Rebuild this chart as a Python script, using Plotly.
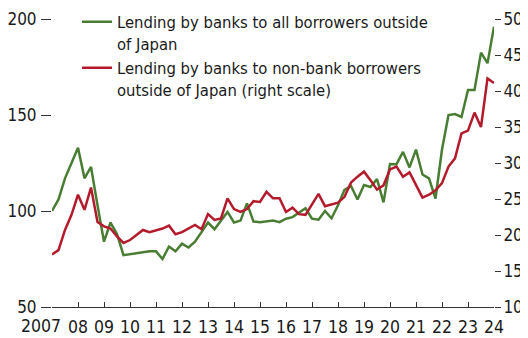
import plotly.graph_objects as go

# quarterly, 2007Q1 .. 2024Q1
quarters = [2007 + i / 4 for i in range(69)]

all_borrowers = [
    100, 106, 117, 125, 133, 117, 123, 103,
    84, 94, 88, 77, 77.5, 78, 78.5, 79,
    79, 75, 81.5, 79, 83, 81, 84, 89,
    94, 90.5, 95, 99.5, 94, 95, 104, 94.5,
    94.2, 94.5, 95, 94.2, 96, 96.8, 99, 101.4,
    96, 95.5, 100, 96.2, 103, 111, 113, 106,
    113.5, 112.5, 116.6, 104.5, 124.5, 124.4, 130.8, 122.7,
    132, 119, 117, 106.5, 132, 150, 150.5, 149,
    163, 163, 182.5, 177, 196,
]

non_bank = [
    17.3, 17.9, 20.7, 22.8, 25.6, 23.5, 26.6, 21.8,
    21.2, 20.9, 19.8, 18.9, 19.3, 20, 20.7, 20.4,
    20.6, 20.9, 21.3, 20.1, 20.4, 20.9, 21.4, 20.8,
    22.9, 22.1, 22.3, 25.1, 23.6, 23.2, 23.6, 24.7,
    24.6, 26, 25.1, 25.1, 23.2, 23.8, 22.9, 22.8,
    24.2, 25.7, 24, 24.2, 24.5, 25.3, 27.3, 28.1,
    28.8, 27.6, 26.3, 26.9, 29.1, 29.5, 28.1, 28.7,
    27, 25.2, 25.6, 26.2, 27.2, 29.5, 30.65, 34.1,
    34.5, 37, 35, 41.75, 41.1,
]

year_ticks = list(range(2007, 2025))
year_labels = [""] + [f"{y % 100:02d}" for y in range(2008, 2025)]

left_ticks = [50, 100, 150, 200]
right_ticks = [10, 15, 20, 25, 30, 35, 40, 45, 50]

FONT = "DejaVu Sans Condensed, Liberation Sans Narrow, sans-serif"
GREEN = "#4a7d34"
RED = "#b31b2c"
INK = "#1a1a1a"

fig = go.Figure()
fig.add_trace(
    go.Scatter(
        x=quarters,
        y=all_borrowers,
        mode="lines",
        name="Lending by banks to all borrowers outside<br>of Japan",
        legendgroup="all",
        line={"color": GREEN, "width": 2.5},
        yaxis="y",
    )
)
fig.add_trace(
    go.Scatter(
        x=quarters,
        y=non_bank,
        mode="lines",
        name="Lending by banks to non-bank borrowers<br>outside of Japan (right scale)",
        legendgroup="nonbank",
        line={"color": RED, "width": 2.5},
        yaxis="y2",
    )
)

# "2007" sits a little left of its tick in the original, so it goes in as text
fig.add_annotation(
    x=0, y=0, xref="paper", yref="paper",
    text="2007", showarrow=False,
    xanchor="right", yanchor="middle", xshift=11, yshift=-19,
    font={"family": FONT, "size": 17.5, "color": INK},
)

# the page body adds an 8px offset, so the figure origin is moved by 8px
fig.update_layout(
    width=520,
    height=330,
    paper_bgcolor="white",
    plot_bgcolor="white",
    margin={"l": 44, "r": 34, "t": 11, "b": 31, "autoexpand": False},
    font={"family": FONT, "size": 17, "color": INK},
    showlegend=True,
    legend={
        "x": 25 / 442,
        "y": 1.05,
        "xanchor": "left",
        "yanchor": "top",
        "bgcolor": "rgba(0,0,0,0)",
        "valign": "top",
        "tracegroupgap": 0,
        "font": {"family": FONT, "size": 16.5, "color": INK},
    },
    xaxis={
        "range": [2007, 2024],
        "tickvals": year_ticks,
        "ticktext": year_labels,
        "tickangle": 0,
        "tickfont": {"size": 17.5},
        "automargin": False,
        "ticks": "inside",
        "ticklen": 5,
        "tickcolor": "#333",
        "ticklabelstandoff": 4,
        "showline": True,
        "linecolor": "#333",
        "linewidth": 1,
        "showgrid": False,
        "zeroline": False,
    },
    yaxis={
        "range": [50, 200],
        "tickvals": left_ticks,
        "automargin": False,
        "ticks": "outside",
        "ticklen": 10,
        "tickwidth": 1.2,
        "tickcolor": "#333",
        "ticklabelstandoff": 1,
        "showgrid": False,
        "zeroline": False,
        "showline": False,
    },
    yaxis2={
        "range": [10, 50],
        "tickvals": right_ticks,
        "overlaying": "y",
        "side": "right",
        "automargin": False,
        "ticks": "outside",
        "ticklen": 6,
        "tickwidth": 1.2,
        "tickcolor": "#333",
        "ticklabelstandoff": -1,
        "showgrid": False,
        "zeroline": False,
        "showline": False,
    },
)

fig.write_html("out.html")
